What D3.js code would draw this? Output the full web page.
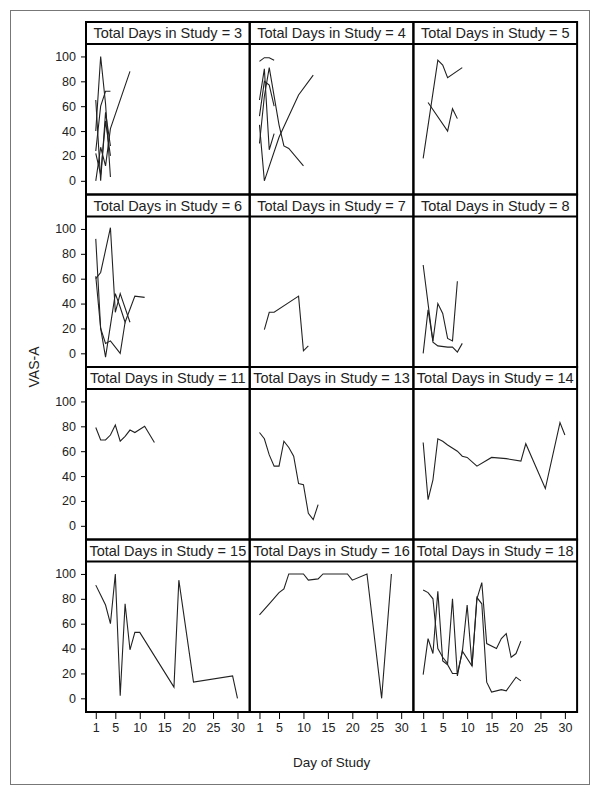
<!DOCTYPE html>
<html>
<head>
<meta charset="utf-8">
<script src="https://cdn.jsdelivr.net/npm/d3@7"></script>
<style>
  body { margin: 0; background: #fff; }
  text { font-family: "Liberation Sans", Arial, sans-serif; fill: #222; }
</style>
</head>
<body>
<div id="chart"></div>
<script>
// panel labels (Total Days in Study)
const panels = [3, 4, 5, 6, 7, 8, 11, 13, 14, 15, 16, 18];

// subject profiles per panel: [day, VAS-A]
const s3 = [
  [[1,40],[2,100],[3,62],[4,3]],
  [[1,65],[2,0],[3,55],[4,28]],
  [[1,0],[2,27],[3,12],[4,42],[8,88]],
  [[1,24],[2,60],[3,72],[4,72]],
  [[1,22],[2,5],[3,48],[4,20]]
];
const s4 = [
  [[1,96],[2,99],[3,99],[4,97]],
  [[1,45],[2,0],[5,35],[9,69],[12,85]],
  [[1,65],[2,90],[3,25],[4,38]],
  [[1,30],[2,68],[3,91],[5,45],[6,28],[7,26],[10,12]],
  [[1,52],[2,80],[3,77],[4,60]]
];
const s5 = [
  [[1,18],[4,97],[5,93],[6,83],[9,91]],
  [[2,63],[6,40],[7,58],[8,50]]
];
const s6 = [
  [[1,92],[2,20],[3,-3],[5,48],[6,37],[7,25],[9,46],[11,45]],
  [[1,60],[2,65],[4,101],[5,33],[6,48],[8,25]],
  [[1,62],[2,20],[3,8],[4,10],[6,0],[7,25]]
];
const s7 = [
  [[2,19],[3,33],[4,33],[9,46],[10,2],[11,6]]
];
const s8 = [
  [[1,71],[3,9],[4,6],[6,5],[7,5],[8,1],[9,8]],
  [[1,0],[2,35],[3,10],[4,40],[5,32],[6,12],[7,10],[8,58]]
];
const s11 = [
  [[1,79],[2,69],[3,69],[4,73],[5,81],[6,68],[7,72],[8,77],[9,75],[11,80],[13,67]]
];
const s13 = [
  [[1,75],[2,70],[3,57],[4,48],[5,48],[6,68],[7,63],[8,56],[9,34],[10,33],[11,10],[12,5],[13,17]]
];
const s14 = [
  [[1,67],[2,21],[3,37],[4,70],[5,68],[6,65],[8,60],[9,56],[10,55],[12,48],[15,55],[18,54],[21,52],[22,66],[26,30],[29,83],[30,73]]
];
const s15 = [
  [[1,91],[2,83],[3,75],[4,60],[5,100],[6,2],[7,76],[8,39],[9,53],[10,53],[17,9],[18,95],[21,13],[29,18],[30,0]]
];
const s16 = [
  [[1,67],[3,76],[5,85],[6,88],[7,100],[10,100],[11,95],[13,96],[14,100],[19,100],[20,95],[23,100],[26,0],[28,100]]
];
const s18 = [
  [[1,87],[2,85],[3,80],[4,40],[5,33],[6,28],[7,80],[8,18],[9,38],[11,26],[12,80],[13,93],[14,44],[16,40],[17,48],[18,52],[19,33],[20,36],[21,46]],
  [[1,19],[2,48],[3,36],[4,86],[5,30],[6,27],[7,20],[8,20],[9,37],[10,75],[11,26],[12,81],[13,76],[14,13],[15,5],[17,7],[18,6],[20,17],[21,14]]
];
const series = [s3, s4, s5, s6, s7, s8, s11, s13, s14, s15, s16, s18];

const xTicks = [1, 5, 10, 15, 20, 25, 30];
const yTicks = [0, 20, 40, 60, 80, 100];

const W = 601, H = 795;
const gridLeft = 86, gridTop = 22;
const colW = 163.7, rowH = 172.5, headH = 22;
const plotH = rowH - headH;

const svg = d3.select("#chart").append("svg")
  .attr("width", W)
  .attr("height", H);

// outer frame
svg.append("rect")
  .attr("x", 10.5).attr("y", 10.5)
  .attr("width", 579).attr("height", 774)
  .attr("fill", "none")
  .attr("stroke", "#777")
  .attr("stroke-width", 1);

const x = d3.scaleLinear().domain([-1, 32.5]).range([0, colW]);
const y = d3.scaleLinear().domain([-11, 110]).range([plotH, 0]);

const line = d3.line()
  .x(d => x(d[0]))
  .y(d => y(d[1]));

svg.append("clipPath").attr("id", "clip")
  .append("rect").attr("width", colW).attr("height", plotH);

panels.forEach((p, i) => {
  const col = i % 3, row = Math.floor(i / 3);
  const g = svg.append("g")
    .attr("transform", `translate(${gridLeft + col * colW}, ${gridTop + row * rowH})`);

  // header
  g.append("text")
    .attr("x", colW / 2)
    .attr("y", headH / 2 + 5)
    .attr("text-anchor", "middle")
    .style("font-size", "14.5px")
    .text(`Total Days in Study = ${p}`);

  const plot = g.append("g").attr("transform", `translate(0, ${headH})`);

  plot.append("g")
    .attr("clip-path", "url(#clip)")
    .selectAll("path")
    .data(series[i])
    .enter()
    .append("path")
    .attr("d", line)
    .attr("fill", "none")
    .attr("stroke", "#222")
    .attr("stroke-width", 1.1);

  // y axis on first column
  if (col === 0) {
    const ya = plot.append("g")
      .call(d3.axisLeft(y).tickValues(yTicks).tickSize(5).tickPadding(5));
    ya.select(".domain").remove();
    ya.selectAll("text").style("font-size", "12.5px").attr("fill", "#222");
  }
  // x axis on bottom row
  if (row === 3) {
    const xa = plot.append("g")
      .attr("transform", `translate(0, ${plotH})`)
      .call(d3.axisBottom(x).tickValues(xTicks).tickSize(7).tickPadding(4));
    xa.select(".domain").remove();
    xa.selectAll("text").style("font-size", "12.5px").attr("fill", "#222");
  }

  // panel borders
  g.append("rect")
    .attr("width", colW).attr("height", rowH)
    .attr("fill", "none")
    .attr("stroke", "#000")
    .attr("stroke-width", 2);
  g.append("line")
    .attr("x1", 0).attr("x2", colW)
    .attr("y1", headH).attr("y2", headH)
    .attr("stroke", "#000")
    .attr("stroke-width", 2);
});

// axis titles
svg.append("text")
  .attr("x", gridLeft + 1.5 * colW)
  .attr("y", 767)
  .attr("text-anchor", "middle")
  .style("font-size", "13.5px")
  .text("Day of Study");

svg.append("text")
  .attr("transform", `translate(39, ${gridTop + 2 * rowH}) rotate(-90)`)
  .attr("text-anchor", "middle")
  .style("font-size", "14px")
  .text("VAS-A");
</script>
</body>
</html>
